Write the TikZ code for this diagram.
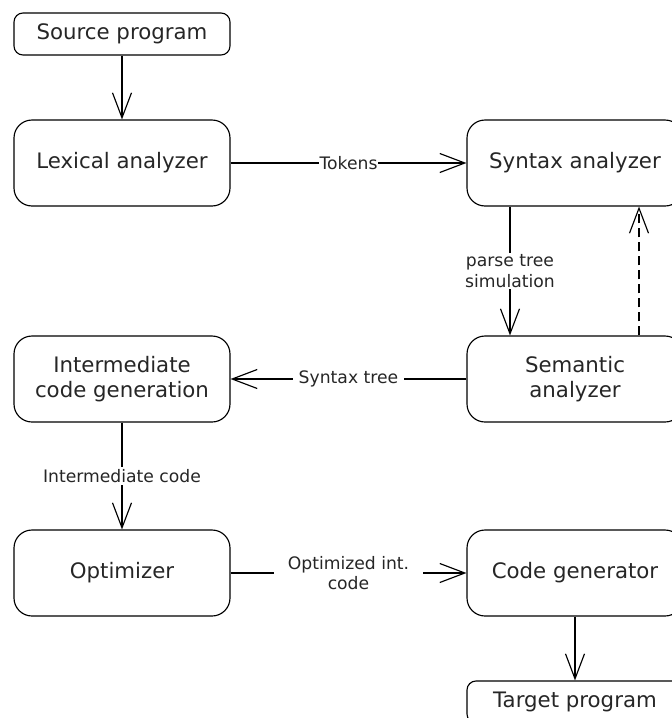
\documentclass[tikz,border=0pt]{standalone}
\usepackage{fontspec}
\setmainfont{DejaVu Sans}
\usetikzlibrary{arrows.meta}
\tikzset{
  box/.style={draw, line width=1.15pt, rounded corners=18pt, minimum width=216pt, minimum height=86pt,
    align=center, font=\fontsize{21.3}{25.5}\selectfont, text=black!85},
  smallbox/.style={box, rounded corners=9pt, minimum height=42pt},
  arr/.style={line width=1.15pt, -{Straight Barb[length=25pt,width=19pt,line width=1.15pt]}},
  lbl/.style={fill=white, inner ysep=2pt, align=center, font=\fontsize{17.2}{20.5}\selectfont, text=black!85},
}
\begin{document}
\begin{tikzpicture}[x=1pt,y=-1pt]
\useasboundingbox (0,0) rectangle (672,718);
\node[smallbox] (src) at (122,34) {Source program};
\node[box] (lex) at (122,163) {Lexical analyzer};
\node[box] (syn) at (575,163) {Syntax analyzer};
\node[box] (sem) at (575,379) {Semantic\\analyzer};
\node[box] (icg) at (122,379) {Intermediate\\code generation};
\node[box] (opt) at (122,573) {Optimizer};
\node[box] (cg) at (575,573) {Code generator};
\node[smallbox] (tgt) at (575,702) {Target program};

\draw[arr] (src) -- (lex);
\draw[arr] (lex) -- node[lbl, inner xsep=1pt] {Tokens} (syn);
\draw[arr] ([xshift=-65pt]syn.south) -- node[lbl, inner xsep=1pt] {parse tree\\simulation} ([xshift=-65pt]sem.north);
\draw[arr, dash pattern=on 9pt off 5pt] ([xshift=64pt]sem.north) -- ([xshift=64pt]syn.south);
\draw[arr] (sem) -- node[lbl, inner xsep=6pt] {Syntax tree} (icg);
\draw[arr] (icg) -- node[lbl, inner xsep=1pt] {Intermediate code} (opt);
\draw[arr] (opt) -- node[lbl, inner xsep=14pt] {Optimized int.\\code} (cg);
\draw[arr] (cg) -- (tgt);
\end{tikzpicture}
\end{document}
